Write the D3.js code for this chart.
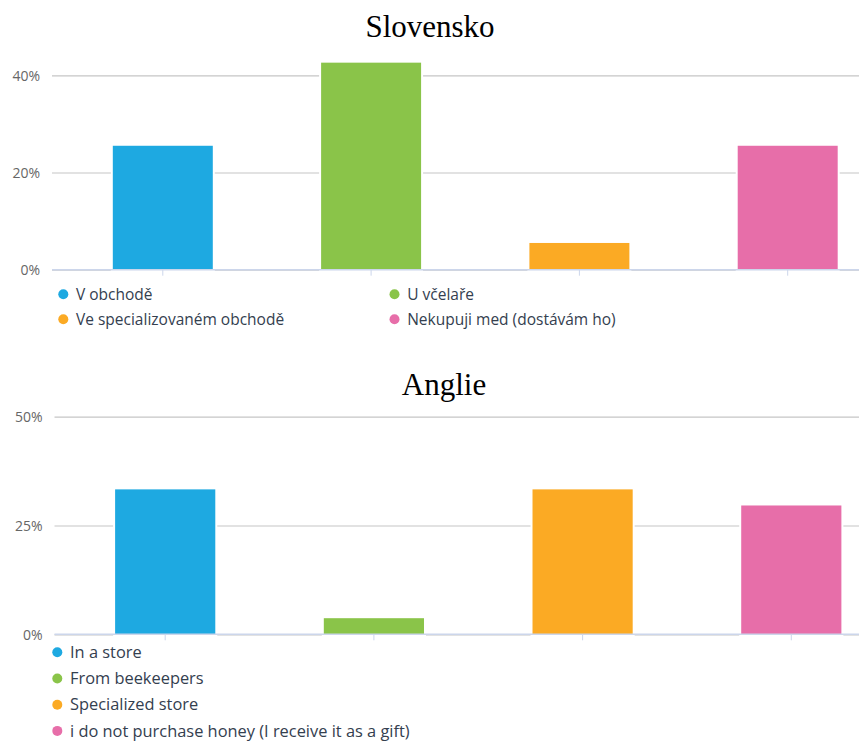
<!DOCTYPE html>
<html>
<head>
<meta charset="utf-8">
<title>Nákup medu – Slovensko / Anglie</title>
<script src="https://cdn.jsdelivr.net/npm/d3@7"></script>
<style>
  html, body { margin: 0; padding: 0; background: #fff; }
  svg { display: block; }
  .title { font-family: "Liberation Serif", "Times New Roman", serif; font-size: 31px; fill: #000; }
  .ylab text { font-family: "Open Sans", sans-serif; font-size: 14px; fill: #666; }
  .legend text { font-family: "Open Sans", sans-serif; fill: #34404f; }
</style>
</head>
<body>
<script>
// Shares of respondents by where they get honey (%)
const seriesColors = ["#1ea9e1", "#8ac449", "#fbaa24", "#e76ea9"];

const skTitle = "Slovensko";
const skCategories = ["V obchodě", "U včelaře", "Ve specializovaném obchodě", "Nekupuji med (dostávám ho)"];
const skValues = [25.5, 42.6, 5.5, 25.5];
const skTicks = [0, 20, 40];

const enTitle = "Anglie";
const enCategories = ["In a store", "From beekeepers", "Specialized store", "i do not purchase honey (I receive it as a gift)"];
const enValues = [33.3, 3.7, 33.3, 29.6];
const enTicks = [0, 25, 50];

const W = 859, H = 742;
const svg = d3.select("body").append("svg").attr("width", W).attr("height", H);

function panel(opt) {
  const g = svg.append("g");

  g.append("text").attr("class", "title")
    .attr("x", opt.titleX).attr("y", opt.titleY)
    .attr("text-anchor", "middle").text(opt.title);

  const y = d3.scaleLinear().domain([0, opt.ticks[opt.ticks.length - 1]]).range([opt.y0, opt.y1]);
  const x = d3.scaleBand().domain(opt.categories).range(opt.xRange)
    .paddingInner(0.52).paddingOuter(0.26);

  // gridlines and percentage labels
  const yAxis = d3.axisLeft(y).tickValues(opt.ticks)
    .tickSize(-(W - opt.left)).tickPadding(12)
    .tickFormat(d => d + "%");
  const ya = g.append("g").attr("class", "ylab")
    .attr("transform", `translate(${opt.left},0)`).call(yAxis);
  ya.select(".domain").remove();
  ya.selectAll(".tick line").attr("stroke", "#c6c6c6").attr("stroke-width", 1.2);
  ya.selectAll(".tick text").attr("dy", "0.36em");

  // bars
  g.selectAll("rect.bar").data(opt.values).join("rect")
    .attr("class", "bar")
    .attr("x", (d, i) => x(opt.categories[i]))
    .attr("width", x.bandwidth())
    .attr("y", d => y(d))
    .attr("height", d => y(0) - y(d))
    .attr("fill", (d, i) => seriesColors[i])
    .attr("stroke", "#fff").attr("stroke-width", 4)
    .attr("paint-order", "stroke");

  // category axis
  const xAxis = d3.axisBottom(x).tickSizeInner(6).tickSizeOuter(0).tickFormat("");
  const xa = g.append("g").attr("transform", `translate(0,${opt.y0})`).call(xAxis);
  xa.select(".domain").remove();
  xa.selectAll(".tick line").attr("stroke", "#ccd6eb");
  g.append("line")
    .attr("x1", opt.left).attr("x2", W)
    .attr("y1", opt.y0).attr("y2", opt.y0)
    .attr("stroke", "#ccd6eb").attr("stroke-width", 1.5);

  // legend
  const lg = g.append("g").attr("class", "legend");
  const item = lg.selectAll("g").data(opt.categories).join("g")
    .attr("transform", (d, i) => {
      const c = i % opt.legendCols, r = Math.floor(i / opt.legendCols);
      return `translate(${opt.legendX[c]},${opt.legendY + r * opt.legendRow})`;
    });
  item.append("circle").attr("r", 5).attr("fill", (d, i) => seriesColors[i]);
  item.append("text").attr("x", 12.7).attr("y", 5.6)
    .style("font-size", opt.legendFont + "px").text(d => d);
}

panel({
  title: skTitle, titleX: 430, titleY: 37,
  categories: skCategories, values: skValues, ticks: skTicks,
  left: 52, y0: 269.7, y1: 75.3, xRange: [58.65, 891.85],
  legendCols: 2, legendX: [63.3, 394.5], legendY: 294.3, legendRow: 25, legendFont: 15.5
});

panel({
  title: enTitle, titleX: 444, titleY: 395,
  categories: enCategories, values: enValues, ticks: enTicks,
  left: 54.5, y0: 634.3, y1: 416.7, xRange: [60.85, 895.65],
  legendCols: 1, legendX: [57.3], legendY: 652.3, legendRow: 26.2, legendFont: 16.4
});
</script>
</body>
</html>
